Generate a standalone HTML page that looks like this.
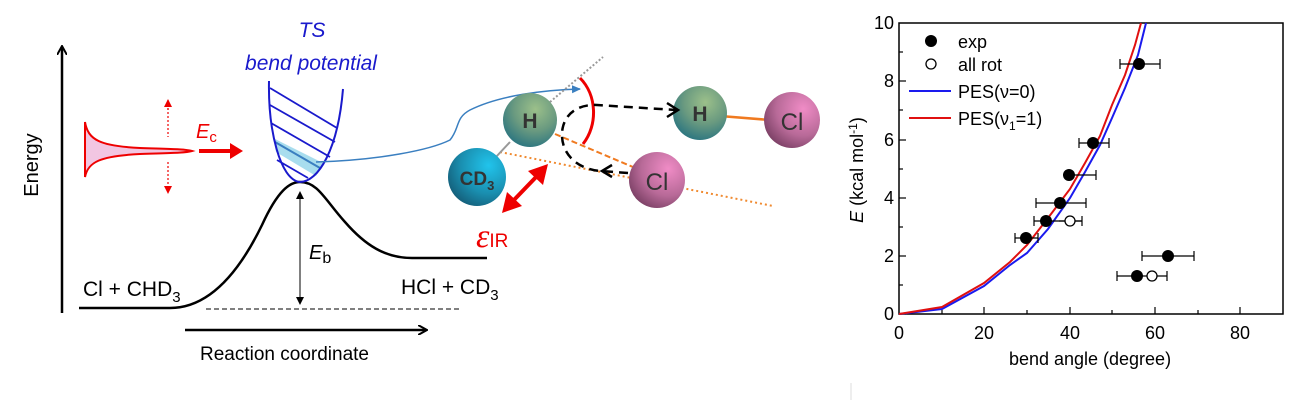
<!DOCTYPE html>
<html><head><meta charset="utf-8"><style>
body{margin:0;background:#fff;}
svg{display:block;font-family:"Liberation Sans",sans-serif;}
</style></head><body>
<svg width="1303" height="400" viewBox="0 0 1303 400" xmlns="http://www.w3.org/2000/svg">
<defs>
<marker id="ak" markerWidth="10" markerHeight="10" refX="8" refY="5" orient="auto" markerUnits="userSpaceOnUse"><path d="M0,0 L9,5 L0,10" fill="none" stroke="#000" stroke-width="2"/></marker>
<marker id="as" markerWidth="8" markerHeight="8" refX="7" refY="4" orient="auto" markerUnits="userSpaceOnUse"><path d="M0,0 L8,4 L0,8 Z" fill="#000"/></marker>
<marker id="ar" markerWidth="8" markerHeight="8" refX="7" refY="4" orient="auto" markerUnits="userSpaceOnUse"><path d="M0,0 L8,4 L0,8 Z" fill="#e00"/></marker>
<marker id="ab" markerWidth="10" markerHeight="10" refX="8" refY="5" orient="auto" markerUnits="userSpaceOnUse"><path d="M0,1 L9,5 L0,9 Z" fill="#3a7fc0"/></marker>
<radialGradient id="gH" cx="0.6" cy="0.3" r="0.8"><stop offset="0" stop-color="#9cc08a"/><stop offset="0.5" stop-color="#6a9a80"/><stop offset="1" stop-color="#1f6e80"/></radialGradient>
<radialGradient id="gC" cx="0.7" cy="0.3" r="0.8"><stop offset="0" stop-color="#21c4ec"/><stop offset="0.6" stop-color="#1a8fb0"/><stop offset="1" stop-color="#145d78"/></radialGradient>
<radialGradient id="gCl" cx="0.7" cy="0.3" r="0.8"><stop offset="0" stop-color="#f08cc6"/><stop offset="0.6" stop-color="#b86a98"/><stop offset="1" stop-color="#7a3f64"/></radialGradient>
</defs>

<!-- Left energy diagram -->
<line x1="62" y1="313" x2="62" y2="47" stroke="#000" stroke-width="2.5" marker-end="url(#ak)"/>
<text transform="translate(38,165) rotate(-90)" font-size="20" text-anchor="middle">Energy</text>
<path d="M79,308 L170,308 C215,308 245,260 262,225 C278,190 290,182 300,182 C318,182 325,200 345,222 C365,245 385,258 412,258 L487,258" fill="none" stroke="#000" stroke-width="2.5"/>
<line x1="206" y1="309" x2="462" y2="309" stroke="#000" stroke-width="1" stroke-dasharray="5,3"/>
<line x1="300" y1="300" x2="300" y2="192" stroke="#000" stroke-width="1" marker-end="url(#as)"/>
<line x1="300" y1="195" x2="300" y2="304" stroke="#000" stroke-width="1" marker-end="url(#as)"/>
<text x="309" y="259" font-size="20" font-style="italic">E<tspan font-style="normal" font-size="16" dy="4">b</tspan></text>
<line x1="185" y1="330" x2="426" y2="330" stroke="#000" stroke-width="2.5" marker-end="url(#ak)"/>
<text x="200" y="360" font-size="19">Reaction coordinate</text>
<text x="83" y="296" font-size="21">Cl + CHD<tspan font-size="15" dy="6">3</tspan></text>
<text x="401" y="294" font-size="21">HCl + CD<tspan font-size="15" dy="6">3</tspan></text>

<!-- gaussian -->
<path d="M85,122 C88,140 100,146 140,148 C170,149 185,149 192,151 C185,153 170,153 140,154 C100,156 88,162 85,177 Z" fill="#f2c6e2" stroke="#e00" stroke-width="2"/>
<line x1="85" y1="122" x2="85" y2="177" stroke="#e00" stroke-width="2"/>
<line x1="168" y1="110" x2="168" y2="100" stroke="#e00" stroke-width="1.2" stroke-dasharray="2,2" marker-end="url(#ar)"/>
<line x1="168" y1="108" x2="168" y2="137" stroke="#e00" stroke-width="1.2" stroke-dasharray="2,2"/>
<line x1="168" y1="162" x2="168" y2="193" stroke="#e00" stroke-width="1.2" stroke-dasharray="2,2" marker-end="url(#ar)"/>
<line x1="199" y1="151" x2="232" y2="151" stroke="#e00" stroke-width="4"/>
<path d="M230,143 L243,151 L230,159 Z" fill="#e00"/>
<text x="196" y="138" font-size="20" font-style="italic" fill="#e00">E<tspan font-style="normal" font-size="15" dy="4">c</tspan></text>

<!-- bend potential -->
<text x="312" y="37" font-size="21" font-style="italic" fill="#1a1acc" text-anchor="middle">TS</text>
<text x="311" y="70" font-size="21" font-style="italic" fill="#1a1acc" text-anchor="middle">bend potential</text>
<path d="M273,138 L323,163 L316,176 L276,152 Z" fill="#a8ddee"/>
<line x1="275" y1="142" x2="320" y2="168" stroke="#3a7fc0" stroke-width="2"/>
<g stroke="#1a1acc" stroke-width="1.8">
<line x1="270" y1="88" x2="337" y2="128"/>
<line x1="270" y1="105" x2="335" y2="142"/>
<line x1="271" y1="123" x2="330" y2="157"/>
<line x1="277" y1="160" x2="308" y2="178"/>
</g>
<path d="M269,81 C268,130 280,180 300,182 C318,182 338,150 343,89" fill="none" stroke="#1a1acc" stroke-width="2"/>

<!-- blue curve -->
<path d="M316,162 C380,160 430,150 450,140 C460,128 455,118 470,110 C500,95 545,90 580,89" fill="none" stroke="#3a7fc0" stroke-width="1.5" marker-end="url(#ab)"/>

<!-- molecules -->
<line x1="550" y1="102" x2="603" y2="57" stroke="#999" stroke-width="2" stroke-dasharray="2,2"/>
<line x1="500" y1="152" x2="773" y2="206" stroke="#f08a30" stroke-width="2" stroke-dasharray="2,3"/>
<line x1="555" y1="134" x2="640" y2="170" stroke="#f07a20" stroke-width="2" stroke-dasharray="6,3"/>
<line x1="495" y1="158" x2="510" y2="142" stroke="#999" stroke-width="2"/>
<line x1="720" y1="116" x2="770" y2="120" stroke="#f07a20" stroke-width="2.5"/>
<circle cx="477" cy="177" r="29" fill="url(#gC)"/>
<text x="477" y="185" font-size="19" text-anchor="middle" fill="#333" font-weight="bold">CD<tspan font-size="13" dy="5">3</tspan></text>
<circle cx="530" cy="120" r="27" fill="url(#gH)"/>
<text x="530" y="128" font-size="21" text-anchor="middle" fill="#333" font-weight="bold">H</text>
<circle cx="657" cy="180" r="28" fill="url(#gCl)"/>
<text x="657" y="190" font-size="24" text-anchor="middle" fill="#333">Cl</text>
<circle cx="700" cy="113" r="27" fill="url(#gH)"/>
<text x="700" y="121" font-size="21" text-anchor="middle" fill="#333" font-weight="bold">H</text>
<circle cx="792" cy="120" r="28" fill="url(#gCl)"/>
<text x="792" y="130" font-size="24" text-anchor="middle" fill="#333">Cl</text>
<path d="M580,78 C597,95 598,125 583,144" fill="none" stroke="#e00" stroke-width="3"/>
<path d="M628,173 L600,171 C578,169 562,155 562,135 C562,115 577,104 597,105 L676,110" fill="none" stroke="#000" stroke-width="2.5" stroke-dasharray="9,6"/>
<path d="M667,103 L678,110 L667,117" fill="none" stroke="#000" stroke-width="2.5"/>
<path d="M612,165 L602,171 L612,177" fill="none" stroke="#000" stroke-width="2.5"/>
<line x1="512" y1="202" x2="538" y2="175" stroke="#e00" stroke-width="4"/>
<path d="M548,164 L543,185 L528,171 Z" fill="#e00"/>
<path d="M502,213 L507,192 L522,206 Z" fill="#e00"/>
<text x="476" y="247" font-size="34" font-style="italic" fill="#e00" font-family="Liberation Serif,serif">ε<tspan font-style="normal" font-family="Liberation Sans,sans-serif" font-size="19" dy="0">IR</tspan></text>

<!-- plot -->
<g font-size="18">
<rect x="899" y="23" width="384" height="291" fill="none" stroke="#000" stroke-width="1.5"/>
<g stroke="#000" stroke-width="1.2">
<line x1="899" y1="314" x2="906" y2="314"/><line x1="899" y1="256" x2="906" y2="256"/><line x1="899" y1="198" x2="906" y2="198"/><line x1="899" y1="140" x2="906" y2="140"/><line x1="899" y1="81" x2="906" y2="81"/><line x1="899" y1="285" x2="903" y2="285"/><line x1="899" y1="227" x2="903" y2="227"/><line x1="899" y1="169" x2="903" y2="169"/><line x1="899" y1="110" x2="903" y2="110"/><line x1="899" y1="52" x2="903" y2="52"/>
<line x1="984" y1="314" x2="984" y2="307"/><line x1="1070" y1="314" x2="1070" y2="307"/><line x1="1155" y1="314" x2="1155" y2="307"/><line x1="1240" y1="314" x2="1240" y2="307"/>
<line x1="942" y1="314" x2="942" y2="310"/><line x1="1027" y1="314" x2="1027" y2="310"/><line x1="1112" y1="314" x2="1112" y2="310"/><line x1="1198" y1="314" x2="1198" y2="310"/>
</g>
<g text-anchor="end"><text x="894" y="320">0</text><text x="894" y="262">2</text><text x="894" y="204">4</text><text x="894" y="146">6</text><text x="894" y="87">8</text><text x="894" y="29">10</text></g>
<g text-anchor="middle"><text x="899" y="339">0</text><text x="984" y="339">20</text><text x="1070" y="339">40</text><text x="1155" y="339">60</text><text x="1240" y="339">80</text></g>
<text x="1090" y="365" text-anchor="middle">bend angle (degree)</text>
<text transform="translate(863,170) rotate(-90)" text-anchor="middle"><tspan font-style="italic">E</tspan> (kcal mol<tspan font-size="12" dy="-6">-1</tspan><tspan dy="6">)</tspan></text>
<polyline fill="none" stroke="#1a1aee" stroke-width="2" points="899,314 942,309 984,286 1010,265 1027,253 1048,229 1070,198 1085,172 1100,145 1112,118 1125,88 1138,55 1146,23"/>
<polyline fill="none" stroke="#e01010" stroke-width="2" points="899,314 942,307 984,283 1010,262 1027,245 1048,218 1070,189 1085,163 1100,136 1112,105 1125,75 1135,45 1135,45 1141,23"/>
<g stroke="#000" stroke-width="1.2">
<line x1="1120" y1="64" x2="1160" y2="64"/><line x1="1120" y1="59" x2="1120" y2="69"/><line x1="1160" y1="59" x2="1160" y2="69"/>
<line x1="1079" y1="143" x2="1109" y2="143"/><line x1="1079" y1="138" x2="1079" y2="148"/><line x1="1109" y1="138" x2="1109" y2="148"/>
<line x1="1066" y1="175" x2="1096" y2="175"/><line x1="1066" y1="170" x2="1066" y2="180"/><line x1="1096" y1="170" x2="1096" y2="180"/>
<line x1="1036" y1="203" x2="1086" y2="203"/><line x1="1036" y1="198" x2="1036" y2="208"/><line x1="1086" y1="198" x2="1086" y2="208"/>
<line x1="1034" y1="221" x2="1082" y2="221"/><line x1="1034" y1="216" x2="1034" y2="226"/><line x1="1082" y1="216" x2="1082" y2="226"/>
<line x1="1015" y1="238" x2="1038" y2="238"/><line x1="1015" y1="233" x2="1015" y2="243"/><line x1="1038" y1="233" x2="1038" y2="243"/>
<line x1="1059" y1="221" x2="1082" y2="221"/>
<line x1="1142" y1="256" x2="1194" y2="256"/><line x1="1142" y1="251" x2="1142" y2="261"/><line x1="1194" y1="251" x2="1194" y2="261"/>
<line x1="1117" y1="276" x2="1167" y2="276"/><line x1="1117" y1="271" x2="1117" y2="281"/><line x1="1167" y1="271" x2="1167" y2="281"/>
</g>
<circle cx="1070" cy="221" r="5" fill="#fff" stroke="#000" stroke-width="1.3"/>
<circle cx="1152" cy="276" r="5" fill="#fff" stroke="#000" stroke-width="1.3"/>
<g fill="#000">
<circle cx="1139" cy="64" r="6"/><circle cx="1093" cy="143" r="6"/><circle cx="1069" cy="175" r="6"/><circle cx="1060" cy="203" r="6"/><circle cx="1046" cy="221" r="6"/><circle cx="1026" cy="238" r="6"/><circle cx="1168" cy="256" r="6"/><circle cx="1137" cy="276" r="6"/>
</g>
<circle cx="931" cy="41" r="6" fill="#000"/><text x="958" y="48">exp</text>
<circle cx="931" cy="64" r="5" fill="#fff" stroke="#000" stroke-width="1.3"/><text x="958" y="71">all rot</text>
<line x1="909" y1="91" x2="951" y2="91" stroke="#1a1aee" stroke-width="2"/><text x="958" y="98">PES(ν=0)</text>
<line x1="909" y1="118" x2="951" y2="118" stroke="#e01010" stroke-width="2"/><text x="958" y="125">PES(ν<tspan font-size="12" dy="5">1</tspan><tspan dy="-5">=1)</tspan></text>
</g>
<line x1="851" y1="383" x2="851" y2="400" stroke="#ddd" stroke-width="1"/>
</svg>
</body></html>
